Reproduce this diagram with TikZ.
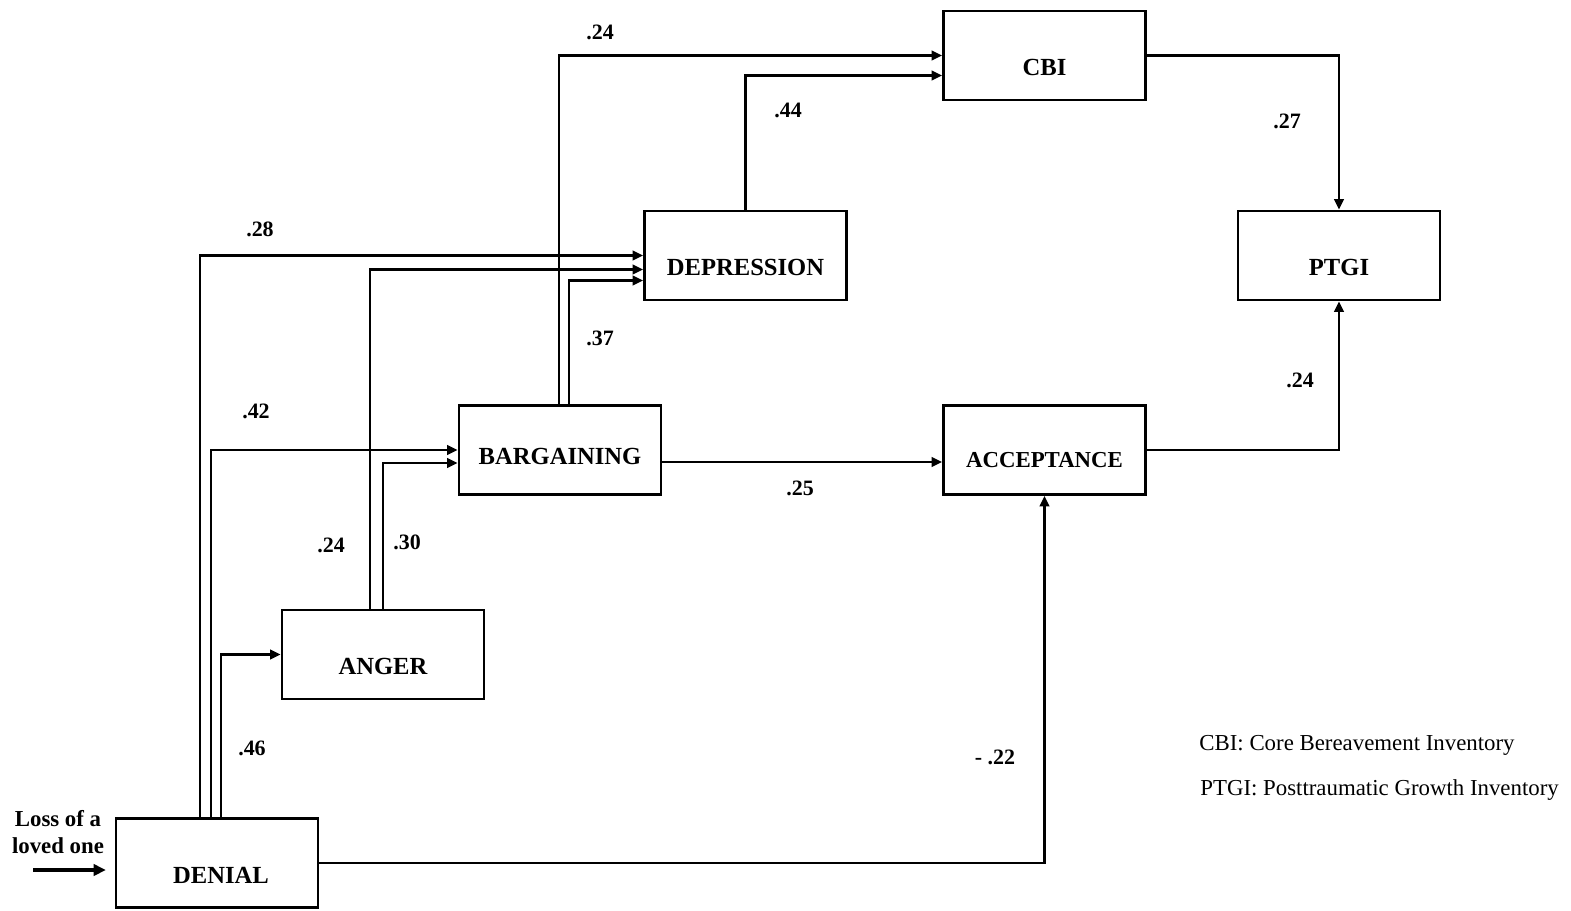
\documentclass[tikz,border=0pt]{standalone}
\usepackage{fontspec}
\setmainfont{Liberation Serif}
\usetikzlibrary{arrows.meta}
\begin{document}
\begin{tikzpicture}[x=0.02cm,y=-0.02cm,
  box/.style={draw,line width=1.6pt,minimum width=4.04cm,minimum height=1.78cm,inner sep=0pt},
  conn/.style={line width=1.2pt,-{Triangle[length=6pt,width=5.5pt]}},
  lab/.style={font=\fontsize{12.5}{14}\selectfont\bfseries,inner sep=0pt},
  blab/.style={font=\fontsize{14}{16}\selectfont\bfseries,inner sep=0pt}]
\useasboundingbox (0,0) rectangle (1571,910);
% boxes
\node[box] (cbi) at (1044.5,55.5) {};
\node[box] (dep) at (745.5,255.5) {};
\node[box] (ptgi) at (1339,255.5) {};
\node[box] (bar) at (560,450) {};
\node[box] (acc) at (1044.5,450) {};
\node[box] (ang) at (383,654.5) {};
\node[box] (den) at (217,863) {};
% box texts
\node[blab] (tcbi) at (1044.5,67) {CBI};
\node[blab] (tdep) at (745.5,267) {DEPRESSION};
\node[blab] (tptgi) at (1339,267) {PTGI};
\node[blab] (tbar) at (560,456) {BARGAINING};
\node[blab,font=\fontsize{13}{15}\selectfont\bfseries] (tacc) at (1044.5,460) {ACCEPTANCE};
\node[blab] (tang) at (383,666) {ANGER};
\node[blab] (tden) at (221,875) {DENIAL};
% helper coordinates
\coordinate (x200) at (200,0);
\coordinate (x211) at (211,0);
\coordinate (x221) at (221,0);
\coordinate (x370) at (370,0);
\coordinate (x559) at (559,0);
\coordinate (x569) at (569,0);
\coordinate (lossS) at (33,870);
% connectors
\draw[conn] (den.north -| x200) |- (dep.west);
\draw[conn] (den.north -| x211) |- (bar.west);
\draw[conn] (den.north -| x221) |- (ang.west);
\draw[conn] (ang.north -| x370) |- ([yshift=-0.28cm]dep.west);
\draw[conn] (ang.north) |- ([yshift=-0.26cm]bar.west);
\draw[conn] (bar.north -| x569) |- ([yshift=-0.5cm]dep.west);
\draw[conn] (bar.north -| x559) |- (cbi.west);
\draw[conn] (dep.north) |- ([yshift=-0.4cm]cbi.west);
\draw[conn] (cbi.east) -| (ptgi.north);
\draw[conn] (acc.east) -| (ptgi.south);
\draw[conn] ([yshift=-0.24cm]bar.east) -- ([yshift=-0.24cm]acc.west);
\draw[conn] (den.east) -| (acc.south);
\draw[line width=2.2pt,-{Triangle[length=7pt,width=6.5pt]},shorten >=5pt] (lossS) -- (lossS -| den.west);
% labels
\node[lab] (l1) at (600,32) {.24};
\node[lab] (l2) at (788,110) {.44};
\node[lab] (l3) at (1287,121) {.27};
\node[lab] (l4) at (260,229) {.28};
\node[lab] (l5) at (600,338) {.37};
\node[lab] (l6) at (1300,380) {.24};
\node[lab] (l7) at (256,411) {.42};
\node[lab] (l8) at (800,488) {.25};
\node[lab] (l9) at (331,545) {.24};
\node[lab] (l10) at (407,542) {.30};
\node[lab] (l11) at (252,748) {.46};
\node[lab] (l12) at (995,757) {- .22};
\node[lab,align=center,font=\fontsize{13}{15.5}\selectfont\bfseries] (loss) at (58,832) {Loss of a\\loved one};
\node[anchor=west,inner sep=0pt,font=\fontsize{13}{15}\selectfont] (leg1) at (1199,745) {CBI: Core Bereavement Inventory};
\node[anchor=west,inner sep=0pt,font=\fontsize{13}{15}\selectfont] (leg2) at (1200,790) {PTGI: Posttraumatic Growth Inventory};
\end{tikzpicture}
\end{document}
